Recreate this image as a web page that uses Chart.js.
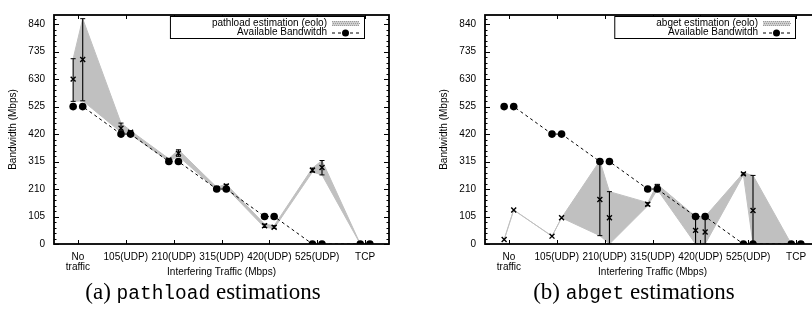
<!DOCTYPE html>
<html>
<head>
<meta charset="utf-8">
<script src="https://cdn.jsdelivr.net/npm/chart.js@4/dist/chart.umd.min.js"></script>
<style>
  html, body { margin: 0; padding: 0; background: #fff; overflow: hidden; }
  body { width: 812px; height: 320px; position: relative; }
  .panel { position: absolute; top: 0; width: 406px; height: 320px; }
  .panel canvas { position: absolute; left: 0; top: 0; }
  .caption { position: absolute; left: 0; width: 406px; top: 279px; line-height: 26px; text-align: center;
             font-family: "Liberation Serif", "DejaVu Serif", "Times New Roman", Times, serif;
             font-size: 23px; color: #000; white-space: nowrap; }
  .caption code { font-family: "Liberation Mono", "DejaVu Sans Mono", "Courier New", monospace; font-size: 19.5px; }
</style>
</head>
<body>
<div class="panel" style="left:0px">
  <canvas id="pathloadChart" width="406" height="282"></canvas>
  <div class="caption">(a) <code>pathload</code> estimations</div>
</div>
<div class="panel" style="left:431px">
  <canvas id="abgetChart" width="406" height="282"></canvas>
  <div class="caption">(b) <code>abget</code> estimations</div>
</div>
<script>
// categories / ticks
const categories = [['No', 'traffic'], '105(UDP)', '210(UDP)', '315(UDP)', '420(UDP)', '525(UDP)', 'TCP'];
const pairOffsets = [-0.1, 0.1];   // two runs per category
const yTicks = [0, 105, 210, 315, 420, 525, 630, 735, 840];
const yMinorStep = 21;

// available bandwidth (same for both)
const availBW = [525, 525, 420, 420, 315, 315, 210, 210, 105, 105, 0, 0, 0, 0];

// pathload: estimate, min, max
const pathloadMid  = [630, 705, 442, 427, 321, 347, 212, 222, 70, 64, 282, 292, 0, 0];
const pathloadLow  = [545, 547, 427, 418, 316, 335, 207, 214, 63, 60, 275, 264, 0, 0];
const pathloadHigh = [708, 861, 462, 433, 326, 360, 217, 228, 76, 70, 290, 319, 0, 0];

// abget: estimate, min, max
const abgetMid  = [17, 130, 30, 100, 170, 100, 152, 218, 52, 46, 268, 128, 0, 0];
const abgetLow  = [17, 130, 30, 100, 32, 0, 146, 208, 0, 0, 264, 0, 0, 0];
const abgetHigh = [17, 130, 30, 100, 318, 200, 158, 228, 105, 105, 272, 262, 0, 0];

const FONT = '"Liberation Sans", Arial, Helvetica, sans-serif';
const FILL_GREY = '#c0c0c0';
Chart.defaults.font.family = FONT;
Chart.defaults.color = '#000';

const xs = categories.flatMap((c, i) => pairOffsets.map(o => i + o));
const pts = vals => vals.map((v, i) => ({ x: xs[i], y: v }));

// gnuplot style frame with inward ticks on all sides
const framePlugin = {
    id: 'frame',
    afterDatasetsDraw(chart) {
        const { ctx, chartArea: a, scales } = chart;
        ctx.save();
        ctx.strokeStyle = '#000';
        ctx.lineWidth = 1;
        ctx.beginPath();
        categories.forEach((c, i) => {
            const px = Math.round(scales.x.getPixelForValue(i)) + 0.5;
            ctx.moveTo(px, a.bottom); ctx.lineTo(px, a.bottom - 4);
            ctx.moveTo(px, a.top); ctx.lineTo(px, a.top + 4);
        });
        for (let v = 0; v <= scales.y.max; v += yMinorStep) {
            const len = yTicks.includes(v) ? 5 : 2.5;
            const py = Math.round(scales.y.getPixelForValue(v)) + 0.5;
            ctx.moveTo(a.left, py); ctx.lineTo(a.left + len, py);
            ctx.moveTo(a.right, py); ctx.lineTo(a.right - len, py);
        }
        ctx.stroke();
        ctx.lineWidth = 1.8;
        ctx.strokeRect(a.left, a.top, a.right - a.left, a.bottom - a.top);
        ctx.restore();
    }
};

// key box in the top right corner, text right aligned like gnuplot
const keyPlugin = {
    id: 'gnuKey',
    afterDraw(chart, args, opts) {
        const { ctx, chartArea: a } = chart;
        ctx.save();
        ctx.font = '10px ' + FONT;
        const maxW = Math.max(...opts.labels.map(t => ctx.measureText(t).width));
        const right = a.right - 25, left = right - maxW - 79;
        const top = a.top + 1, h = 22;
        ctx.fillStyle = '#fff';
        ctx.fillRect(left, top, right - left, h);
        ctx.strokeStyle = '#000';
        ctx.lineWidth = 1;
        ctx.strokeRect(left + 0.5, top + 0.5, right - left, h);
        const rows = [top + 7.5, top + 16.5];
        ctx.fillStyle = '#000';
        ctx.textAlign = 'right';
        ctx.textBaseline = 'middle';
        opts.labels.forEach((t, i) => ctx.fillText(t, right - 37, rows[i]));
        // fill sample (dotted grey)
        ctx.fillStyle = '#d0d0d0';
        ctx.fillRect(right - 32, rows[0] - 2.5, 27, 5);
        ctx.fillStyle = '#9a9a9a';
        for (let dx = 0; dx < 27; dx += 2) {
            for (let dy = 0; dy < 5; dy += 2) ctx.fillRect(right - 32 + dx + (dy % 4 ? 1 : 0), rows[0] - 2.5 + dy, 1, 1);
        }
        // line + point sample
        ctx.strokeStyle = '#000';
        ctx.setLineDash([3, 3]);
        ctx.beginPath();
        ctx.moveTo(right - 32, rows[1] + 0.5); ctx.lineTo(right - 5, rows[1] + 0.5);
        ctx.stroke();
        ctx.setLineDash([]);
        ctx.fillStyle = '#000';
        ctx.beginPath();
        ctx.arc(right - 18.5, rows[1] + 0.5, 3.5, 0, Math.PI * 2);
        ctx.fill();
        ctx.restore();
    }
};

function drawChart(id, keyText, mid, low, high) {
    // error bars as separate segments (null breaks the line)
    const errPts = [];
    low.forEach((l, i) => {
        if (high[i] > l) errPts.push({ x: xs[i], y: l }, { x: xs[i], y: high[i] }, { x: xs[i], y: null });
    });

    new Chart(document.getElementById(id).getContext('2d'), {
        type: 'line',
        data: {
            datasets: [{
                data: pts(mid),
                showLine: false,
                pointStyle: 'crossRot',
                pointRadius: 3.5,
                pointBorderColor: '#000',
                pointBorderWidth: 1.4
            }, {
                data: errPts,
                borderColor: '#000',
                borderWidth: 1.1,
                spanGaps: false,
                pointStyle: 'line',
                pointRadius: 2.5,
                pointBorderColor: '#000',
                pointBorderWidth: 1
            }, {
                data: pts(availBW),
                borderColor: '#000',
                borderWidth: 1,
                borderDash: [3, 3],
                pointStyle: 'circle',
                pointRadius: 3.8,
                pointBackgroundColor: '#000',
                pointBorderColor: '#000',
                pointBorderWidth: 0
            }, {
                data: pts(high),
                borderColor: FILL_GREY,
                borderWidth: 1,
                backgroundColor: FILL_GREY,
                fill: '+1',
                pointRadius: 0
            }, {
                data: pts(low),
                borderColor: FILL_GREY,
                borderWidth: 1,
                fill: false,
                pointRadius: 0
            }]
        },
        options: {
            responsive: false,
            animation: false,
            events: [],
            layout: { padding: { top: 5, right: 17, left: 0, bottom: 0 } },
            plugins: {
                legend: { display: false },
                tooltip: { enabled: false },
                gnuKey: { labels: [keyText, 'Available Bandwitdh'] }
            },
            scales: {
                x: {
                    type: 'linear',
                    min: -0.5,
                    max: 6.5,
                    afterBuildTicks: s => { s.ticks = categories.map((c, i) => ({ value: i })); },
                    afterFit: s => { s.height = 38; },
                    grid: { display: false, drawTicks: false },
                    border: { display: false },
                    ticks: {
                        autoSkip: false, maxRotation: 0, padding: 8,
                        font: { size: 10, lineHeight: 1 },
                        callback: v => categories[v]
                    },
                    title: {
                        display: true, text: 'Interfering Traffic (Mbps)',
                        font: { size: 10 }, padding: { top: 0, bottom: 4 }
                    }
                },
                y: {
                    min: 0,
                    max: 875,
                    afterBuildTicks: s => { s.ticks = yTicks.map(v => ({ value: v })); },
                    afterFit: s => { s.width = 54; },
                    grid: { display: false, drawTicks: false },
                    border: { display: false },
                    ticks: { padding: 9, font: { size: 10 } },
                    title: {
                        display: true, text: 'Bandwidth (Mbps)',
                        font: { size: 10 }, padding: { top: 7, bottom: 0 }
                    }
                }
            }
        },
        plugins: [framePlugin, keyPlugin]
    });
}

drawChart('pathloadChart', 'pathload estimation (eolo)', pathloadMid, pathloadLow, pathloadHigh);
drawChart('abgetChart', 'abget estimation (eolo)', abgetMid, abgetLow, abgetHigh);
</script>
</body>
</html>
